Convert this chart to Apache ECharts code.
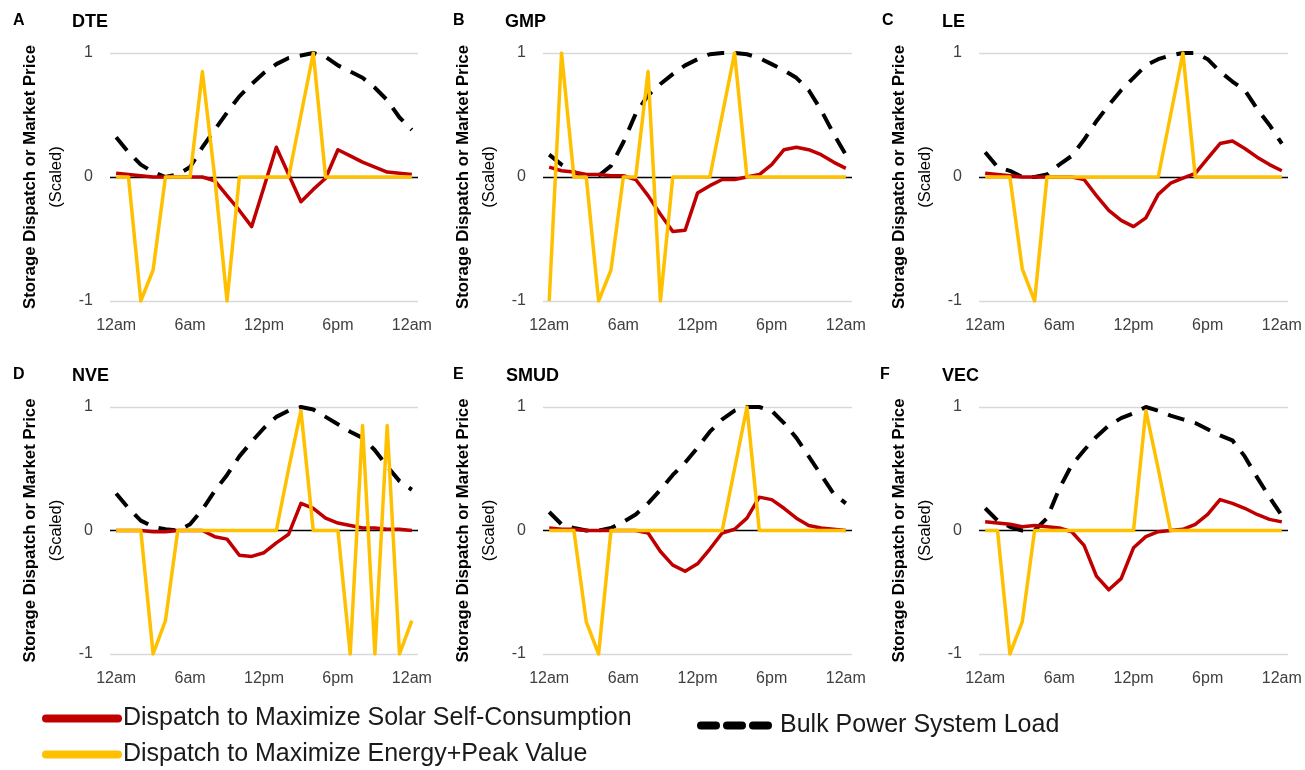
<!DOCTYPE html>
<html>
<head>
<meta charset="utf-8">
<script src="https://cdn.jsdelivr.net/npm/echarts@6/dist/echarts.min.js"></script>
<style>
  html, body { margin: 0; padding: 0; background: #ffffff; }
  #chart { width: 1305px; height: 770px; }
</style>
</head>
<body>
<div id="chart"></div>
<script>
// ---- Data (hourly, 12am .. 12am) ----
const hours = ['12am','1am','2am','3am','4am','5am','6am','7am','8am','9am','10am','11am',
               '12pm','1pm','2pm','3pm','4pm','5pm','6pm','7pm','8pm','9pm','10pm','11pm','12am'];
const yTicks = [-1, 0, 1];

const panelLetters = ['A', 'B', 'C', 'D', 'E', 'F'];
const panelNames = ['DTE', 'GMP', 'LE', 'NVE', 'SMUD', 'VEC'];

const seriesNames = ['Dispatch to Maximize Solar Self-Consumption',
                     'Dispatch to Maximize Energy+Peak Value',
                     'Bulk Power System Load'];

// DTE
const solarDTE  = [0.03,0.02,0.01,0.0,0.0,0.0,0.0,0.0,-0.03,-0.15,-0.27,-0.4,-0.08,0.24,0.02,-0.2,-0.1,-0.01,0.22,0.17,0.12,0.08,0.04,0.03,0.02];
const energyDTE = [0,0,-1,-0.75,0,0,0,0.85,0,-1,0,0,0,0,0,0.5,1,0,0,0,0,0,0,0,0];
const loadDTE   = [0.32,0.2,0.1,0.04,0.0,0.02,0.08,0.24,0.38,0.52,0.65,0.75,0.84,0.91,0.96,0.98,1.0,0.97,0.9,0.85,0.8,0.72,0.62,0.48,0.38];
// GMP
const solarGMP  = [0.08,0.05,0.04,0.02,0.02,0.01,0.01,-0.02,-0.15,-0.3,-0.44,-0.43,-0.13,-0.07,-0.02,-0.02,0.0,0.02,0.1,0.22,0.24,0.22,0.18,0.12,0.07];
const energyGMP = [-1,1,0,0,-1,-0.75,0,0,0.85,-1,0,0,0,0,0.5,1,0,0,0,0,0,0,0,0,0];
const loadGMP   = [0.18,0.1,0.04,0.0,0.01,0.09,0.28,0.51,0.66,0.75,0.83,0.9,0.95,0.99,1.0,1.0,0.99,0.96,0.91,0.86,0.8,0.7,0.54,0.35,0.18];
// LE
const solarLE   = [0.03,0.02,0.01,0.0,0.0,0.0,0.0,0.0,-0.02,-0.15,-0.27,-0.35,-0.4,-0.33,-0.14,-0.05,-0.01,0.03,0.15,0.27,0.29,0.23,0.16,0.1,0.05];
const energyLE  = [0,0,0,-0.74,-1,0,0,0,0,0,0,0,0,0,0,0.5,1,0,0,0,0,0,0,0,0];
const loadLE    = [0.2,0.08,0.05,0.0,0.0,0.02,0.1,0.17,0.3,0.45,0.58,0.7,0.8,0.9,0.95,0.98,1.0,1.0,0.95,0.85,0.77,0.7,0.55,0.42,0.27];
// NVE
const solarNVE  = [0,0,0,-0.01,-0.01,0,0,0,-0.05,-0.07,-0.2,-0.21,-0.18,-0.1,-0.03,0.22,0.18,0.1,0.06,0.04,0.02,0.02,0.01,0.01,0.0];
const energyNVE = [0,0,0,-1,-0.73,0,0,0,0,0,0,0,0,0,0.5,0.97,0,0,0,-1,0.85,-1,0.85,-1,-0.73];
const loadNVE   = [0.3,0.18,0.08,0.03,0.01,0.0,0.05,0.17,0.32,0.45,0.6,0.72,0.83,0.92,0.97,1.0,0.98,0.92,0.86,0.8,0.75,0.65,0.52,0.4,0.33];
// SMUD
const solarSMUD  = [0.02,0.01,0.01,0.0,0.0,0.0,0.0,0.0,-0.02,-0.17,-0.28,-0.33,-0.27,-0.15,-0.02,0.01,0.1,0.27,0.25,0.18,0.1,0.04,0.02,0.01,0.0];
const energySMUD = [0,0,0,-0.74,-1,0,0,0,0,0,0,0,0,0,0,0.5,1,0,0,0,0,0,0,0,0];
const loadSMUD   = [0.15,0.05,0.02,0.0,0.0,0.02,0.07,0.13,0.22,0.33,0.45,0.55,0.67,0.8,0.9,0.97,1.0,1.0,0.97,0.87,0.75,0.6,0.45,0.3,0.22];
// VEC
const solarVEC  = [0.07,0.06,0.05,0.03,0.04,0.03,0.02,-0.01,-0.12,-0.37,-0.48,-0.39,-0.14,-0.05,-0.01,0.0,0.01,0.05,0.13,0.25,0.22,0.18,0.13,0.09,0.07];
const energyVEC = [0,0,-1,-0.74,0,0,0,0,0,0,0,0,0,0.97,0.5,0,0,0,0,0,0,0,0,0,0];
const loadVEC   = [0.18,0.08,0.03,0.0,0.0,0.1,0.34,0.53,0.65,0.76,0.85,0.91,0.95,1.0,0.97,0.93,0.9,0.87,0.82,0.77,0.73,0.6,0.43,0.27,0.12];

const solarAll  = [solarDTE, solarGMP, solarLE, solarNVE, solarSMUD, solarVEC];
const energyAll = [energyDTE, energyGMP, energyLE, energyNVE, energySMUD, energyVEC];
const loadAll   = [loadDTE, loadGMP, loadLE, loadNVE, loadSMUD, loadVEC];

// ---- Layout ----
const FONT = '"Liberation Sans", Arial, sans-serif';
const colLeft = [110, 543, 979];
const colWidth = [308, 309, 309];
const rowTop = [53, 407];
const rowHeight = [248, 247];
const letterX = [13, 453, 882, 13, 453, 880];
const nameX = [72, 505, 942, 72, 506, 942];
const titleTop = [13, 367];

const grids = [], xAxes = [], yAxes = [], series = [], titles = [];
for (let p = 0; p < 6; p++) {
  const r = Math.floor(p / 3), c = p % 3;
  grids.push({ left: colLeft[c], top: rowTop[r], width: colWidth[c], height: rowHeight[r], containLabel: false });
  xAxes.push({
    type: 'category', gridIndex: p, data: hours, boundaryGap: true,
    axisLine: { show: false, onZero: false }, axisTick: { show: false },
    axisLabel: { interval: 5, margin: 17, color: '#404040', fontSize: 16, fontFamily: FONT },
    splitLine: { show: false }
  });
  yAxes.push({
    type: 'value', gridIndex: p, min: yTicks[0], max: yTicks[yTicks.length - 1], interval: 1,
    axisLine: { show: false }, axisTick: { show: false },
    axisLabel: { margin: 17, color: '#404040', fontSize: 16, fontFamily: FONT },
    splitLine: { show: true, lineStyle: { color: ['#d9d9d9', '#000000', '#d9d9d9'], width: 1.3 } },
    name: '{a|Storage Dispatch or Market Price}\n{b|(Scaled)}',
    nameLocation: 'middle', nameRotate: 90, nameGap: 41,
    nameTextStyle: {
      fontFamily: FONT,
      rich: {
        a: { fontSize: 16.8, fontWeight: 'bold', color: '#000', lineHeight: 26, fontFamily: FONT },
        b: { fontSize: 16.5, color: '#000', lineHeight: 26, fontFamily: FONT }
      }
    }
  });
  series.push({
    name: seriesNames[2], type: 'line', xAxisIndex: p, yAxisIndex: p, data: loadAll[p],
    symbol: 'none', smooth: false, z: 2,
    lineStyle: { color: '#000000', width: 4, type: [17, 11] }, itemStyle: { color: '#000000' }
  });
  series.push({
    name: seriesNames[0], type: 'line', xAxisIndex: p, yAxisIndex: p, data: solarAll[p],
    symbol: 'none', smooth: false, z: 3,
    lineStyle: { color: '#C00000', width: 3.5, join: 'round' }, itemStyle: { color: '#C00000' }
  });
  series.push({
    name: seriesNames[1], type: 'line', xAxisIndex: p, yAxisIndex: p, data: energyAll[p],
    symbol: 'none', smooth: false, z: 4,
    lineStyle: { color: '#FFC000', width: 3.5, join: 'round' }, itemStyle: { color: '#FFC000' }
  });
  titles.push({ text: panelLetters[p], left: letterX[p], top: titleTop[r], padding: 0,
    textStyle: { fontSize: 16, fontWeight: 'bold', color: '#000', fontFamily: FONT } });
  titles.push({ text: panelNames[p], left: nameX[p], top: titleTop[r], padding: 0,
    textStyle: { fontSize: 18, fontWeight: 'bold', color: '#000', fontFamily: FONT } });
}

const legendText = { fontSize: 25, color: '#1a1a1a', fontFamily: FONT };
const option = {
  backgroundColor: '#ffffff',
  animation: false,
  title: titles,
  grid: grids,
  xAxis: xAxes,
  yAxis: yAxes,
  series: series,
  legend: [
    {
      data: [seriesNames[0], seriesNames[1]], orient: 'vertical', left: 42, top: 706,
      padding: 0, itemGap: 11, itemWidth: 72, itemHeight: 12, selectedMode: false,
      textStyle: legendText,
      lineStyle: { width: 8, cap: 'round', type: 'solid' },
      itemStyle: { color: 'rgba(0,0,0,0)', borderWidth: 0, opacity: 0 }
    },
    {
      data: [seriesNames[2]], orient: 'horizontal', left: 697, top: 713,
      padding: 0, itemWidth: 74, itemHeight: 12, selectedMode: false,
      textStyle: legendText,
      lineStyle: { width: 8, cap: 'round', type: [15, 11] },
      itemStyle: { color: 'rgba(0,0,0,0)', borderWidth: 0, opacity: 0 }
    }
  ]
};

const chart = echarts.init(document.getElementById('chart'), null, { renderer: 'canvas' });
chart.setOption(option);
</script>
</body>
</html>
